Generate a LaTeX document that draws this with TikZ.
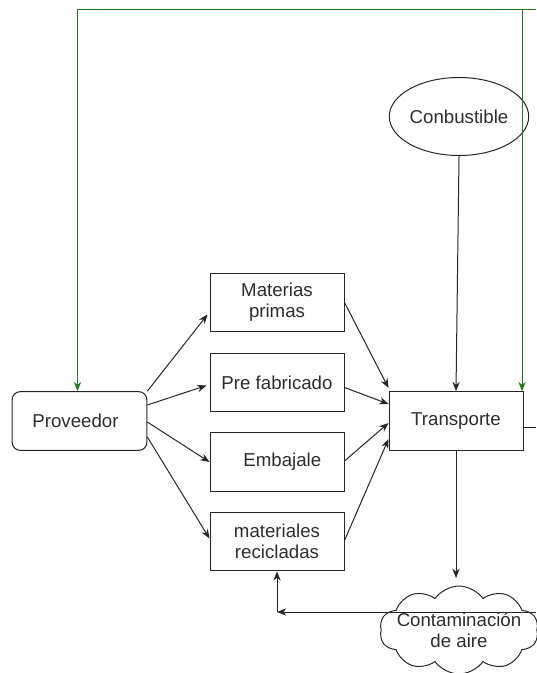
\documentclass[tikz,border=0pt]{standalone}
\usepackage{fontspec}
\setmainfont{Liberation Sans}
\usetikzlibrary{arrows.meta,shapes.geometric,shapes.symbols,calc}
\definecolor{gline}{RGB}{30,125,30}
\definecolor{txt}{RGB}{45,45,45}
\begin{document}
\begin{tikzpicture}[x=0.75pt,y=-0.75pt,
  font=\fontsize{14}{15.5}\selectfont,
  box/.style={draw=black!85,line width=0.75pt,minimum width=100.5pt,minimum height=44pt,inner sep=2pt,align=center,text=txt},
  arr/.style={draw=black!85,line width=0.75pt,-{Stealth[length=7pt,width=5.5pt]}},
  garr/.style={draw=gline,line width=0.75pt,-{Stealth[length=7pt,width=5.5pt]}},
  plain/.style={draw=black!85,line width=0.75pt}]
\useasboundingbox (0,0) rectangle (536,673);
\node[box,rounded corners=6pt,minimum width=101pt] (prov) at (79.5,421) {\hspace*{-6pt}Proveedor};
\node[box] (mp) at (277,302.5) {Materias\\primas};
\node[box] (pf) at (277,382.5) {Pre fabricado};
\node[box] (emb) at (277,462) {\hspace*{8pt}Embajale};
\node[box] (rec) at (277,541.5) {materiales\\recicladas};
\node[box] (trans) at (456,421) {Transporte};
\node[draw=black!85,line width=0.75pt,ellipse,minimum width=102pt,minimum height=58.5pt,inner sep=0pt,text=txt] (conb) at (459,116.5) {Conbustible};
\node[draw=black!85,line width=0.75pt,cloud,cloud puffs=10,cloud puff arc=110,cloud ignores aspect,minimum width=119pt,minimum height=66pt,inner sep=-9pt,align=center,text=txt] (cloud) at (459,630) {Contaminación\\de aire};
% free ends
\coordinate (g0) at (536,10);
\coordinate (g1) at (522,10);
\coordinate (r2) at (536,427);
\coordinate (c1) at (456,578);
\coordinate (r3) at (536,612);
\coordinate (b1) at (277,612);
% green feedback
\draw[garr] (g0) -| ($(prov.north)+(-2,0)$);
\draw[garr] (g1) -- (g1 |- trans.north);
% proveedor to materials
\draw[arr] (prov.north east) -- ($(mp.west)+(-2,12)$);
\draw[arr] ($(prov.east)+(0,-16)$) -- ($(pf.west)+(-3,3)$);
\draw[arr] ($(prov.east)+(0,1)$) -- (emb.west);
\draw[arr] ($(prov.east)+(0,16)$) -- ($(rec.west)+(0,-3)$);
% materials to transporte
\draw[arr] (mp.east) -- ($(trans.west)+(0,-33)$);
\draw[arr] ($(pf.east)+(0,5)$) -- ($(trans.west)+(0,-17)$);
\draw[arr] ($(emb.east)+(0,-1)$) -- ($(trans.west)+(0,2)$);
\draw[arr] ($(rec.east)+(0,-1)$) -- ($(trans.west)+(0,18)$);
% fuel
\draw[arr] (conb.south) -- (trans.north);
% right exit
\draw[plain] (trans.east |- r2) -- (r2);
% contamination
\draw[arr] (trans.south) -- (c1);
\draw[arr] (r3) -- (b1);
\draw[arr] (b1) -- (rec.south);
\end{tikzpicture}
\end{document}
